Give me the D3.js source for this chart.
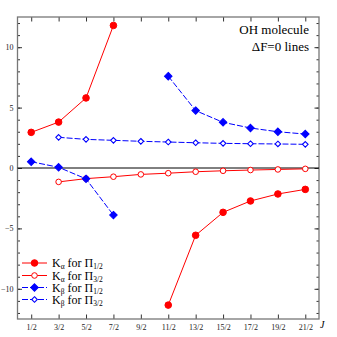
<!DOCTYPE html>
<html>
<head>
<meta charset="utf-8">
<script src="https://cdn.jsdelivr.net/npm/d3@7"></script>
<style>
body { margin: 0; background: #fff; }
text { font-family: "Liberation Serif", "DejaVu Serif", serif; }
</style>
</head>
<body>
<div id="chart"></div>
<script>
var jValues = [0.5, 1.5, 2.5, 3.5, 4.5, 5.5, 6.5, 7.5, 8.5, 9.5, 10.5];
var jLabels = ["1/2", "3/2", "5/2", "7/2", "9/2", "11/2", "13/2", "15/2", "17/2", "19/2", "21/2"];
var yMajor = [-10, -5, 0, 5, 10];

// one value per J, null = no point
var kaPi12 = [2.95, 3.8, 5.8, 11.8, null, -11.35, -5.57, -3.67, -2.73, -2.15, -1.77];
var kaPi32 = [null, -1.15, -0.88, -0.72, -0.53, -0.43, -0.31, -0.23, -0.17, -0.12, -0.07];
var kbPi12 = [0.52, 0.06, -0.9, -3.9, null, 7.6, 4.75, 3.78, 3.31, 3.0, 2.81];
var kbPi32 = [null, 2.54, 2.37, 2.29, 2.21, 2.15, 2.09, 2.04, 2.01, 1.99, 1.96];

var width = 337, height = 337;
var plotL = 17.5, plotR = 319, plotT = 17, plotB = 319;

var svg = d3.select("#chart").append("svg").attr("width", width).attr("height", height);

var x = d3.scaleLinear().domain([0, 11]).range([plotL, plotR]);
var y = d3.scaleLinear().domain([-12.5, 12.5]).range([plotB, plotT]);

var series = [
    { sub1: "α", sub2: "1/2", values: kaPi12, color: "#ff0000", dash: null, shape: "circle", filled: true },
    { sub1: "α", sub2: "3/2", values: kaPi32, color: "#ff0000", dash: null, shape: "circle", filled: false },
    { sub1: "β", sub2: "1/2", values: kbPi12, color: "#0000ff", dash: "6,2", shape: "diamond", filled: true },
    { sub1: "β", sub2: "3/2", values: kbPi32, color: "#0000ff", dash: "6,2", shape: "diamond", filled: false }
];

// axes (ticks pointing inward)
var minor = d3.range(-12, 13);
function styleAxis(g) {
    g.select(".domain").remove();
    g.selectAll("line").attr("stroke", "#333");
    g.selectAll("text").style("font-family", "Liberation Serif, serif").style("font-size", "8px").attr("fill", "#222");
}
svg.append("g").attr("transform", "translate(" + plotL + ",0)")
    .call(d3.axisRight(y).tickValues(minor).tickSize(2.5).tickFormat(""))
    .call(styleAxis);
svg.append("g").attr("transform", "translate(" + plotL + ",0)")
    .call(d3.axisLeft(y).tickValues(yMajor).tickSizeInner(-4.5).tickSizeOuter(0).tickPadding(4))
    .call(styleAxis);
svg.append("g").attr("transform", "translate(" + plotR + ",0)")
    .call(d3.axisLeft(y).tickValues(minor).tickSize(2.5).tickFormat(""))
    .call(styleAxis);
svg.append("g").attr("transform", "translate(" + plotR + ",0)")
    .call(d3.axisLeft(y).tickValues(yMajor).tickSize(4.5).tickFormat(""))
    .call(styleAxis);
svg.append("g").attr("transform", "translate(0," + plotB + ")")
    .call(d3.axisBottom(x).tickValues(jValues).tickSizeInner(-4.5).tickSizeOuter(0).tickPadding(5)
        .tickFormat(function(d, i) { return jLabels[i]; }))
    .call(styleAxis);
svg.append("g").attr("transform", "translate(0," + plotT + ")")
    .call(d3.axisBottom(x).tickValues(jValues).tickSize(4.5).tickFormat(""))
    .call(styleAxis);

svg.append("rect")
    .attr("x", plotL).attr("y", plotT)
    .attr("width", plotR - plotL).attr("height", plotB - plotT)
    .attr("fill", "none").attr("stroke", "#777").attr("stroke-width", 1.3);

svg.append("text").attr("x", plotR + 1).attr("y", 328)
    .style("font-size", "10px").style("font-style", "italic").text("J");

// zero line
svg.append("line")
    .attr("x1", plotL).attr("x2", plotR)
    .attr("y1", y(0)).attr("y2", y(0))
    .attr("stroke", "#000").attr("stroke-width", 1);

function drawMarker(g, s, cx, cy) {
    if (s.shape == "circle") {
        g.append("circle").attr("cx", cx).attr("cy", cy)
            .attr("r", s.filled ? 3.3 : 2.8)
            .attr("fill", s.filled ? s.color : "#fff")
            .attr("stroke", s.color).attr("stroke-width", 1);
    } else {
        var r = s.filled ? 3.7 : 2.8;
        g.append("path")
            .attr("d", "M" + cx + "," + (cy - r) + "L" + (cx + r) + "," + cy + "L" + cx + "," + (cy + r) + "L" + (cx - r) + "," + cy + "Z")
            .attr("fill", s.filled ? s.color : "#fff")
            .attr("stroke", s.color).attr("stroke-width", 1.1);
    }
}

var line = d3.line()
    .defined(function(d) { return d != null; })
    .x(function(d, i) { return x(jValues[i]); })
    .y(function(d) { return y(d); });

series.forEach(function(s) {
    var g = svg.append("g");
    g.append("path").attr("d", line(s.values))
        .attr("fill", "none").attr("stroke", s.color).attr("stroke-width", 1)
        .attr("stroke-dasharray", s.dash);
    s.values.forEach(function(v, i) {
        if (v != null) drawMarker(g, s, x(jValues[i]), y(v));
    });
});

// annotation
svg.append("text").attr("x", 309).attr("y", 34).attr("text-anchor", "end")
    .style("font-size", "13px").text("OH molecule");
svg.append("text").attr("x", 309).attr("y", 51).attr("text-anchor", "end")
    .style("font-size", "13px").text("ΔF=0 lines");

// legend
var legendY = [263, 275.5, 287.5, 299.5];
series.forEach(function(s, i) {
    var g = svg.append("g");
    var ly = legendY[i];
    g.append("line").attr("x1", 22).attr("x2", 47).attr("y1", ly).attr("y2", ly)
        .attr("stroke", s.color).attr("stroke-width", 1).attr("stroke-dasharray", s.dash);
    drawMarker(g, s, 34.5, ly);
    var t = g.append("text").attr("x", 52).attr("y", ly + 4).style("font-size", "12px");
    t.append("tspan").text("K");
    t.append("tspan").attr("dy", 2).style("font-size", "7.5px").text(s.sub1);
    t.append("tspan").attr("dy", -2).text(" for Π");
    t.append("tspan").attr("dy", 2).style("font-size", "7.5px").text(s.sub2);
});
</script>
</body>
</html>
